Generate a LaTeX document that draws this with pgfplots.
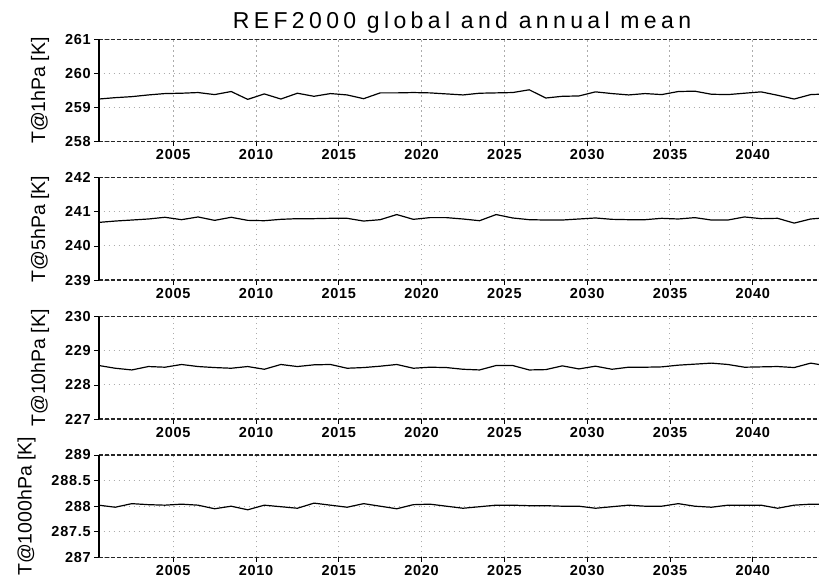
\documentclass[border=0pt]{standalone}
\usepackage{fontspec}
\setmainfont{Liberation Sans}
\newfontfamily\titlefont[LetterSpace=19]{Liberation Sans}
\newfontfamily\tickfont[LetterSpace=5]{Liberation Sans Bold}
\usepackage{pgfplots}
\pgfplotsset{compat=1.18}
\pgfplotsset{
  panel/.style={
    scale only axis, width=720.3pt, height=102.4pt,
    anchor=north west,
    xmin=2000.5, xmax=2044,
    xtick={2005,2010,...,2040},
    /pgf/number format/assume math mode=true,
    /pgf/number format/1000 sep={},
    tick label style={font=\fontsize{14.5}{15}\tickfont},
    ylabel style={font=\fontsize{19.5}{19.5}\selectfont, yshift=9pt},
    axis line style={draw=none},
    grid=major,
    major grid style={gray!65, line width=1pt, dash pattern=on 1.2pt off 3.8pt},
    tick style={black, line width=0.9pt},
    tick align=outside, major tick length=4.5pt,
    xtick pos=bottom, ytick pos=left,
    clip=true,
    after end axis/.code={
      \draw[black!85, line width=1.5pt, dash pattern=on 4pt off 2pt] (rel axis cs:0,1) -- (rel axis cs:1,1);
      \draw[black!85, line width=1.5pt, dash pattern=on 4pt off 2pt] (rel axis cs:0,0) -- (rel axis cs:1,0);
      \draw[black, line width=2pt] (rel axis cs:0,0) -- (rel axis cs:0,1);
    },
  },
  dataline/.style={black, line width=1.2pt, no marks},
}
\begin{document}
\begin{tikzpicture}[x=1pt,y=1pt]
\node[anchor=base, font=\fontsize{23}{23}\titlefont] at (462pt,-28.3pt) {REF2000 global and annual mean};

\begin{axis}[panel, at={(98.7pt,-39.3pt)}, ymin=258, ymax=261, ytick={258,259,260,261}, ylabel={T@1hPa [K]}]
\addplot[dataline] coordinates {
(2000.5,259.25) (2001.5,259.29) (2002.5,259.32) (2003.5,259.37) (2004.5,259.41)
(2005.5,259.42) (2006.5,259.44) (2007.5,259.38) (2008.5,259.47) (2009.5,259.24)
(2010.5,259.40) (2011.5,259.25) (2012.5,259.42) (2013.5,259.33) (2014.5,259.41)
(2015.5,259.37) (2016.5,259.26) (2017.5,259.43) (2018.5,259.43) (2019.5,259.44)
(2020.5,259.43) (2021.5,259.40) (2022.5,259.37) (2023.5,259.42) (2024.5,259.43)
(2025.5,259.44) (2026.5,259.52) (2027.5,259.28) (2028.5,259.33) (2029.5,259.34)
(2030.5,259.46) (2031.5,259.41) (2032.5,259.37) (2033.5,259.41) (2034.5,259.38)
(2035.5,259.47) (2036.5,259.48) (2037.5,259.39) (2038.5,259.38) (2039.5,259.42)
(2040.5,259.46) (2041.5,259.36) (2042.5,259.25) (2043.5,259.38) (2044.5,259.40)
};
\end{axis}

\begin{axis}[panel, at={(98.7pt,-177.7pt)}, ymin=239, ymax=242, ytick={239,240,241,242}, ylabel={T@5hPa [K]}]
\addplot[dataline] coordinates {
(2000.5,240.69) (2001.5,240.73) (2002.5,240.76) (2003.5,240.79) (2004.5,240.84)
(2005.5,240.77) (2006.5,240.85) (2007.5,240.75) (2008.5,240.84) (2009.5,240.75)
(2010.5,240.74) (2011.5,240.78) (2012.5,240.80) (2013.5,240.80) (2014.5,240.81)
(2015.5,240.81) (2016.5,240.73) (2017.5,240.77) (2018.5,240.92) (2019.5,240.78)
(2020.5,240.83) (2021.5,240.83) (2022.5,240.79) (2023.5,240.74) (2024.5,240.92)
(2025.5,240.82) (2026.5,240.77) (2027.5,240.76) (2028.5,240.76) (2029.5,240.79)
(2030.5,240.82) (2031.5,240.78) (2032.5,240.77) (2033.5,240.77) (2034.5,240.81)
(2035.5,240.79) (2036.5,240.83) (2037.5,240.76) (2038.5,240.76) (2039.5,240.85)
(2040.5,240.80) (2041.5,240.81) (2042.5,240.67) (2043.5,240.79) (2044.5,240.83)
};
\end{axis}

\begin{axis}[panel, at={(98.7pt,-316.7pt)}, ymin=227, ymax=230, ytick={227,228,229,230}, ylabel={T@10hPa [K]}]
\addplot[dataline] coordinates {
(2000.5,228.57) (2001.5,228.49) (2002.5,228.44) (2003.5,228.54) (2004.5,228.52)
(2005.5,228.60) (2006.5,228.54) (2007.5,228.51) (2008.5,228.49) (2009.5,228.54)
(2010.5,228.46) (2011.5,228.60) (2012.5,228.54) (2013.5,228.59) (2014.5,228.60)
(2015.5,228.49) (2016.5,228.51) (2017.5,228.55) (2018.5,228.60) (2019.5,228.49)
(2020.5,228.52) (2021.5,228.51) (2022.5,228.46) (2023.5,228.44) (2024.5,228.57)
(2025.5,228.57) (2026.5,228.44) (2027.5,228.45) (2028.5,228.56) (2029.5,228.47)
(2030.5,228.55) (2031.5,228.46) (2032.5,228.52) (2033.5,228.52) (2034.5,228.53)
(2035.5,228.58) (2036.5,228.61) (2037.5,228.64) (2038.5,228.60) (2039.5,228.52)
(2040.5,228.53) (2041.5,228.54) (2042.5,228.51) (2043.5,228.64) (2044.5,228.56)
};
\end{axis}

\begin{axis}[panel, at={(98.7pt,-455pt)}, ymin=287, ymax=289, ytick={287,287.5,288,288.5,289}, ylabel={T@1000hPa [K]}]
\addplot[dataline] coordinates {
(2000.5,288.02) (2001.5,287.98) (2002.5,288.05) (2003.5,288.03) (2004.5,288.02)
(2005.5,288.04) (2006.5,288.02) (2007.5,287.95) (2008.5,288.00) (2009.5,287.93)
(2010.5,288.02) (2011.5,287.99) (2012.5,287.96) (2013.5,288.06) (2014.5,288.02)
(2015.5,287.98) (2016.5,288.05) (2017.5,288.00) (2018.5,287.95) (2019.5,288.03)
(2020.5,288.04) (2021.5,288.00) (2022.5,287.96) (2023.5,287.99) (2024.5,288.02)
(2025.5,288.02) (2026.5,288.01) (2027.5,288.01) (2028.5,288.00) (2029.5,288.00)
(2030.5,287.96) (2031.5,287.99) (2032.5,288.02) (2033.5,288.00) (2034.5,288.00)
(2035.5,288.05) (2036.5,288.00) (2037.5,287.98) (2038.5,288.02) (2039.5,288.02)
(2040.5,288.02) (2041.5,287.96) (2042.5,288.02) (2043.5,288.04) (2044.5,288.04)
};
\end{axis}

\pgfresetboundingbox
\path (0pt,0pt) rectangle (819pt,-577pt);
\end{tikzpicture}
\end{document}
